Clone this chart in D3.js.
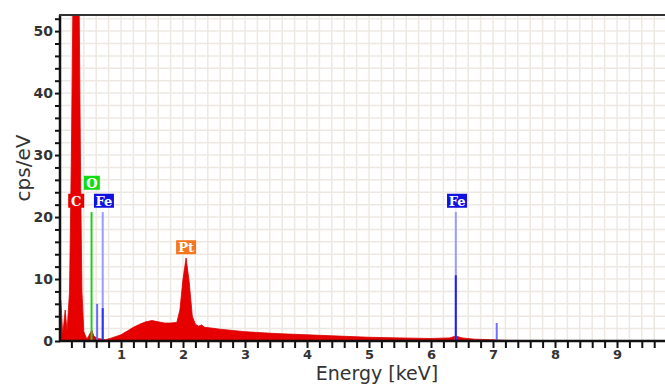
<!DOCTYPE html>
<html>
<head>
<meta charset="utf-8">
<script src="https://cdn.jsdelivr.net/npm/d3@7"></script>
<style>
  body { margin: 0; background: #fff; }
  svg { display: block; }
</style>
</head>
<body>
<script>
// spectrum: energy (keV) and counts (cps/eV)
var energy = [0.00, 0.03, 0.06, 0.10, 0.13, 0.17, 0.20, 0.23, 0.28, 0.32, 0.35, 0.37, 0.40, 0.45, 0.50, 0.53, 0.56, 0.62, 0.70, 0.75,
              0.85, 1.00, 1.10, 1.20, 1.30, 1.40, 1.50, 1.60, 1.70, 1.80, 1.90, 1.95, 2.00, 2.05, 2.10, 2.15, 2.20, 2.25, 2.30, 2.35,
              2.45, 2.60, 2.80, 3.00, 3.50, 4.00, 4.50, 5.00, 5.50, 6.00, 6.30, 6.40, 6.50, 6.70, 7.00, 7.20, 8.00, 10.0];
var counts = [7.0, 6.5, 1.0, 5.0, 1.5, 8.0, 30, 60, 60, 60, 25, 8.0, 1.5, 0.3, 1.2, 1.8, 0.8, 0.4, 0.3, 0.2,
              0.5, 1.0, 1.6, 2.2, 2.7, 3.1, 3.3, 3.1, 2.9, 2.9, 3.0, 5.0, 10.0, 13.4, 9.5, 4.0, 2.7, 2.4, 2.6, 2.2,
              2.1, 1.9, 1.7, 1.5, 1.2, 1.0, 0.8, 0.6, 0.5, 0.4, 0.5, 0.8, 0.5, 0.3, 0.2, 0.1, 0.05, 0];

// element line markers
var lineEnergy = [0.525, 0.705, 0.615, 0.705, 6.40, 6.40, 7.06];
var lineHeight = [20.8, 20.8, 6.0, 5.3, 20.8, 10.6, 2.9];
var lineColor  = ["#22cc22", "#9a9aff", "#6a6aff", "#3030f0", "#9a9aff", "#2020ee", "#7070ff"];

// element labels
var labelText   = ["C", "O", "Fe", "Pt", "Fe"];
var labelEnergy = [0.277, 0.53, 0.725, 2.05, 6.42];
var labelLevel  = [21.5, 24.4, 21.5, 14.0, 21.5];
var labelColor  = ["#e80000", "#14dc14", "#1010e0", "#f5761e", "#1010e0"];

var xTicks = [1, 2, 3, 4, 5, 6, 7, 8, 9];
var yTicks = [0, 10, 20, 30, 40, 50];

var W = 665, H = 385;
var x0 = 59, plotTop = 15, plotBottom = 341;

var svg = d3.select("body").append("svg").attr("width", W).attr("height", H);

var xScale = d3.scaleLinear().domain([0, 10]).range([x0, x0 + 620]);
var yScale = d3.scaleLinear().domain([0, 52.6]).range([plotBottom, plotTop]);

svg.append("clipPath").attr("id", "clip")
    .append("rect").attr("x", x0 + 1).attr("y", plotTop).attr("width", W - x0).attr("height", plotBottom - plotTop);

var plot = svg.append("g").attr("clip-path", "url(#clip)");

// grid
var minorX = d3.range(0, 10.01, 0.2);
var minorY = d3.range(0, 52.7, 2);
plot.selectAll("line.gx").data(minorX).enter().append("line")
    .attr("x1", function (d) { return xScale(d); }).attr("x2", function (d) { return xScale(d); })
    .attr("y1", plotTop).attr("y2", plotBottom)
    .attr("stroke", "#eee8e2").attr("stroke-width", 1.5);
plot.selectAll("line.gy").data(minorY).enter().append("line")
    .attr("x1", x0).attr("x2", W)
    .attr("y1", function (d) { return yScale(d); }).attr("y2", function (d) { return yScale(d); })
    .attr("stroke", "#eee8e2").attr("stroke-width", 1.5);

// spectrum
var pts = energy.map(function (e, i) { return [e, counts[i]]; });
var area = d3.area()
    .x(function (d) { return xScale(d[0]); })
    .y0(plotBottom)
    .y1(function (d) { return yScale(d[1]); });
plot.append("path").attr("d", area(pts))
    .attr("fill", "#e60000").attr("stroke", "#d80000").attr("stroke-width", 0.8);

// element lines
plot.selectAll("line.el").data(lineEnergy).enter().append("line")
    .attr("x1", function (d) { return xScale(d); }).attr("x2", function (d) { return xScale(d); })
    .attr("y1", plotBottom)
    .attr("y2", function (d, i) { return yScale(lineHeight[i]); })
    .attr("stroke", function (d, i) { return lineColor[i]; })
    .attr("stroke-width", 2);

// labels
var lab = svg.selectAll("g.lab").data(labelText).enter().append("g")
    .attr("transform", function (d, i) {
        return "translate(" + xScale(labelEnergy[i]) + "," + yScale(labelLevel[i]) + ")";
    });
lab.append("rect")
    .attr("x", function (d) { return d.length > 1 ? -10 : -8; })
    .attr("y", -14)
    .attr("width", function (d) { return d.length > 1 ? 20 : 16; })
    .attr("height", 14)
    .attr("fill", function (d, i) { return labelColor[i]; });
lab.append("text")
    .attr("x", 0).attr("y", -2)
    .attr("text-anchor", "middle")
    .attr("fill", "#fff")
    .attr("font-family", "DejaVu Serif, serif")
    .attr("font-weight", "bold")
    .attr("font-size", 13)
    .text(function (d) { return d; });

// axes
var fmtY = function (d) { return yTicks.indexOf(d) >= 0 ? d : ""; };
var fmtX = function (d) { return xTicks.indexOf(Math.round(d * 10) / 10) >= 0 ? Math.round(d) : ""; };

var yAxis = svg.append("g").attr("transform", "translate(" + (x0 + 1) + ",0)")
    .call(d3.axisLeft(yScale).tickValues(minorY).tickSize(5).tickPadding(2).tickFormat(fmtY));
var xAxis = svg.append("g").attr("transform", "translate(0," + plotBottom + ")")
    .call(d3.axisBottom(xScale).tickValues(minorX.filter(function (d) { return d > 0.1; })).tickSize(7).tickPadding(2).tickFormat(fmtX));

[yAxis, xAxis].forEach(function (a) {
    a.select(".domain").attr("stroke", "#111").attr("stroke-width", 2.5);
    a.selectAll(".tick line").attr("stroke", "#111").attr("stroke-width", 2);
    a.selectAll("text").attr("font-family", "DejaVu Sans, sans-serif")
        .attr("font-weight", "bold").attr("font-size", 14).attr("fill", "#333");
});
xAxis.selectAll("text").attr("font-size", 13);
xAxis.select(".domain").attr("d", "M" + x0 + ",0H" + W);
yAxis.select(".domain").attr("d", "M0," + plotBottom + "V" + plotTop);

// top border
svg.append("line").attr("x1", x0).attr("x2", W).attr("y1", plotTop).attr("y2", plotTop)
    .attr("stroke", "#333").attr("stroke-width", 2);

// titles
svg.append("text")
    .attr("transform", "translate(30,168) rotate(-90)")
    .attr("text-anchor", "middle")
    .attr("font-family", "DejaVu Sans, sans-serif")
    .attr("font-size", 20).attr("fill", "#333")
    .text("cps/eV");
svg.append("text")
    .attr("x", 377).attr("y", 380)
    .attr("text-anchor", "middle")
    .attr("font-family", "DejaVu Sans, sans-serif")
    .attr("font-size", 19).attr("fill", "#333")
    .text("Energy [keV]");
</script>
</body>
</html>
